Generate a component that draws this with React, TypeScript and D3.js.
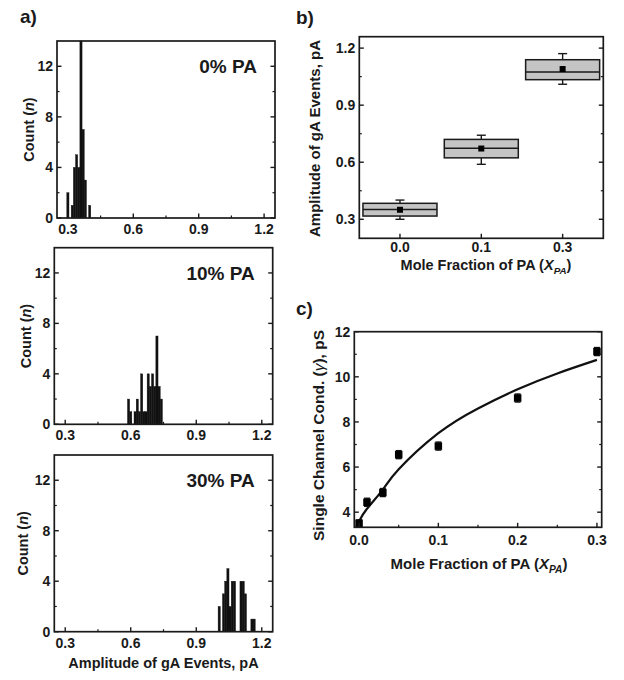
import React from "react";
import * as d3 from "d3";

// ---------- Panel a: histograms ----------
const histLabels = ["0% PA", "10% PA", "30% PA"];
const histBinWidth = 0.01;
const hist0Starts = [0.295, 0.315, 0.325, 0.335, 0.345, 0.355, 0.365, 0.375, 0.395];
const hist0Counts = [2, 1, 4, 5, 4, 14, 7, 3, 1];
const hist10Starts = [0.585, 0.595, 0.615, 0.625, 0.635, 0.645, 0.655, 0.665, 0.675, 0.685, 0.695, 0.705, 0.715, 0.725, 0.735];
const hist10Counts = [2, 1, 1, 2, 1, 4, 1, 1, 4, 3, 4, 3, 7, 3, 2];
const hist30Starts = [1.0, 1.02, 1.03, 1.04, 1.05, 1.06, 1.07, 1.1, 1.11, 1.12, 1.15, 1.16];
const hist30Counts = [2, 3, 4, 5, 2, 4, 4, 4, 4, 3, 1, 1];
const histXTicks = [0.3, 0.6, 0.9, 1.2];
const histXMinor = [0.45, 0.75, 1.05];
const histYTicks = [0, 4, 8, 12];
const histYMinor = [2, 6, 10];

// ---------- Panel b: box plot ----------
const boxCats = ["0.0", "0.1", "0.3"];
const boxQ1 = [0.317, 0.623, 1.034];
const boxQ3 = [0.384, 0.72, 1.139];
const boxMedian = [0.352, 0.673, 1.074];
const boxMean = [0.35, 0.672, 1.09];
const boxMin = [0.3, 0.589, 1.01];
const boxMax = [0.401, 0.742, 1.171];
const boxYTicks = [0.3, 0.6, 0.9, 1.2];
const boxYMinor = [0.45, 0.75, 1.05];

// ---------- Panel c: conductance ----------
const condX = [0, 0.01, 0.03, 0.05, 0.1, 0.2, 0.3];
const condY = [3.51, 4.44, 4.87, 6.55, 6.93, 9.06, 11.12];
const condErr = [0.15, 0.18, 0.18, 0.18, 0.18, 0.18, 0.18];
const fitX = [0, 0.01, 0.03, 0.05, 0.1, 0.15, 0.2, 0.25, 0.3];
const fitY = [3.6, 4.15, 5.0, 5.9, 7.5, 8.6, 9.45, 10.15, 10.75];
const condXTicks = [0, 0.1, 0.2, 0.3];
const condXMinor = [0.05, 0.15, 0.25];
const condYTicks = [4, 6, 8, 10, 12];
const condYMinor = [5, 7, 9, 11];

const INK = "#1a1a1a";
const FONT = "Arial, 'Liberation Sans', Helvetica, sans-serif";

type Box = { left: number; right: number; top: number; bottom: number };

function Axes(props: {
  box: Box;
  x: (v: number) => number;
  y: (v: number) => number;
  xTicks: number[];
  xMinor: number[];
  yTicks: number[];
  yMinor: number[];
  fmtX: (v: number, i: number) => string;
  fmtY: (v: number) => string;
  xLabOff: number;
}) {
  const { box, x, y, xTicks, xMinor, yTicks, yMinor, fmtX, fmtY, xLabOff } = props;
  const M = 4.5;
  const m = 2.5;
  return (
    <g>
      <rect x={box.left} y={box.top} width={box.right - box.left} height={box.bottom - box.top}
        fill="none" stroke={INK} strokeWidth={1.7} />
      {yTicks.map((t) => (
        <g key={"yt" + t}>
          <line x1={box.left} x2={box.left + M} y1={y(t)} y2={y(t)} stroke={INK} strokeWidth={1.4} />
          <line x1={box.right} x2={box.right - M} y1={y(t)} y2={y(t)} stroke={INK} strokeWidth={1.4} />
          <text x={box.left - 4} y={y(t)} dy="0.36em" textAnchor="end" fontSize={14} fontWeight="bold"
            fill={INK} fontFamily={FONT}>{fmtY(t)}</text>
        </g>
      ))}
      {yMinor.map((t) => (
        <g key={"ym" + t}>
          <line x1={box.left} x2={box.left + m} y1={y(t)} y2={y(t)} stroke={INK} strokeWidth={1.2} />
          <line x1={box.right} x2={box.right - m} y1={y(t)} y2={y(t)} stroke={INK} strokeWidth={1.2} />
        </g>
      ))}
      {xTicks.map((t, i) => (
        <g key={"xt" + i}>
          <line x1={x(t)} x2={x(t)} y1={box.bottom} y2={box.bottom - M} stroke={INK} strokeWidth={1.4} />
          <text x={x(t)} y={box.bottom + xLabOff} textAnchor="middle" fontSize={14} fontWeight="bold"
            fill={INK} fontFamily={FONT}>{fmtX(t, i)}</text>
        </g>
      ))}
      {xMinor.map((t) => (
        <line key={"xm" + t} x1={x(t)} x2={x(t)} y1={box.bottom} y2={box.bottom - m} stroke={INK} strokeWidth={1.2} />
      ))}
    </g>
  );
}

function Histogram(props: { box: Box; starts: number[]; counts: number[]; label: string; titleX: number; showXTitle?: boolean }) {
  const { box, starts, counts, label, titleX, showXTitle } = props;
  const x = d3.scaleLinear().domain([0.25, 1.25]).range([box.left, box.right]);
  const y = d3.scaleLinear().domain([0, 14]).range([box.bottom, box.top]);
  const cy = (box.top + box.bottom) / 2;
  return (
    <g>
      {starts.map((s, i) => (
        <rect key={i} x={x(s)} width={x(s + histBinWidth) - x(s)} y={y(counts[i])}
          height={y(0) - y(counts[i])} fill="#111" stroke="#111" strokeWidth={0.4} />
      ))}
      <Axes box={box} x={x} y={y} xTicks={histXTicks} xMinor={histXMinor} yTicks={histYTicks}
        yMinor={histYMinor} fmtX={(v) => d3.format(".1f")(v)} fmtY={(v) => String(v)} xLabOff={16} />
      <text x={box.right - 18} y={y(12) + 7} textAnchor="end" fontSize={19} fontWeight="bold" fill={INK}
        fontFamily={FONT}>{label}</text>
      <text transform={`translate(${titleX},${cy}) rotate(-90)`} textAnchor="middle" dy="0.35em"
        fontSize={14.5} fontWeight="bold" fill={INK} fontFamily={FONT}>
        Count (<tspan fontStyle="italic">n</tspan>)
      </text>
      {showXTitle && (
        <text x={(box.left + box.right) / 2} y={box.bottom + 36} textAnchor="middle" fontSize={14.5}
          fontWeight="bold" fill={INK} fontFamily={FONT}>Amplitude of gA Events, pA</text>
      )}
    </g>
  );
}

function XpaTitle(props: { x: number; y: number; size: number }) {
  return (
    <text x={props.x} y={props.y} textAnchor="middle" fontSize={props.size} fontWeight="bold" fill={INK}
      fontFamily={FONT}>
      Mole Fraction of PA (<tspan fontStyle="italic">X</tspan>
      <tspan fontStyle="italic" fontSize={props.size * 0.68} dy={4}>PA</tspan>
      <tspan dy={-4}>)</tspan>
    </text>
  );
}

function BoxPanel() {
  const box: Box = { left: 359.3, right: 603.3, top: 36.7, bottom: 238.3 };
  const x = d3.scaleLinear().domain([-0.5, 2.5]).range([box.left, box.right]);
  const y = d3.scaleLinear().domain([0.2, 1.26]).range([box.bottom, box.top]);
  const half = (x(1) - x(0)) * 0.455;
  const cap = 4.5;
  const idx = boxCats.map((_, i) => i);
  return (
    <g>
      {idx.map((i) => (
        <g key={i}>
          <line x1={x(i)} x2={x(i)} y1={y(boxMax[i])} y2={y(boxQ3[i])} stroke={INK} strokeWidth={1.4} />
          <line x1={x(i)} x2={x(i)} y1={y(boxMin[i])} y2={y(boxQ1[i])} stroke={INK} strokeWidth={1.4} />
          <line x1={x(i) - cap} x2={x(i) + cap} y1={y(boxMax[i])} y2={y(boxMax[i])} stroke={INK} strokeWidth={1.4} />
          <line x1={x(i) - cap} x2={x(i) + cap} y1={y(boxMin[i])} y2={y(boxMin[i])} stroke={INK} strokeWidth={1.4} />
          <rect x={x(i) - half} width={2 * half} y={y(boxQ3[i])} height={y(boxQ1[i]) - y(boxQ3[i])}
            fill="#c4c4c4" stroke={INK} strokeWidth={1.5} />
          <line x1={x(i) - half} x2={x(i) + half} y1={y(boxMedian[i])} y2={y(boxMedian[i])} stroke={INK} strokeWidth={1.5} />
          <rect x={x(i) - 3} y={y(boxMean[i]) - 3} width={6} height={6} fill="#000" />
        </g>
      ))}
      <Axes box={box} x={x} y={y} xTicks={idx} xMinor={[]} yTicks={boxYTicks} yMinor={boxYMinor}
        fmtX={(_, i) => boxCats[i]} fmtY={(v) => d3.format(".1f")(v)} xLabOff={14} />
      <text transform={`translate(315,${(box.top + box.bottom) / 2 + 1}) rotate(-90)`} textAnchor="middle" dy="0.35em"
        fontSize={15} fontWeight="bold" fill={INK} fontFamily={FONT}>Amplitude of gA Events, pA</text>
      <XpaTitle x={486} y={269.5} size={14.5} />
    </g>
  );
}

function CondPanel() {
  const box: Box = { left: 354.3, right: 601.7, top: 331.7, bottom: 527.3 };
  const x = d3.scaleLinear().domain([-0.006, 0.306]).range([box.left, box.right]);
  const y = d3.scaleLinear().domain([3.33, 12]).range([box.bottom, box.top]);
  const pts = fitX.map((v, i) => [v, fitY[i]] as [number, number]);
  const line = d3.line<[number, number]>().x((d) => x(d[0])).y((d) => y(d[1])).curve(d3.curveNatural);
  const s = 7.5;
  return (
    <g>
      <path d={line(pts) || ""} fill="none" stroke="#111" strokeWidth={2.2} />
      {condX.map((v, i) => (
        <g key={i}>
          <line x1={x(v)} x2={x(v)} y1={y(condY[i] - condErr[i])} y2={y(condY[i] + condErr[i])} stroke="#111" strokeWidth={1.3} />
          <line x1={x(v) - 3} x2={x(v) + 3} y1={y(condY[i] + condErr[i])} y2={y(condY[i] + condErr[i])} stroke="#111" strokeWidth={1.3} />
          <line x1={x(v) - 3} x2={x(v) + 3} y1={y(condY[i] - condErr[i])} y2={y(condY[i] - condErr[i])} stroke="#111" strokeWidth={1.3} />
          <rect x={x(v) - s / 2} y={y(condY[i]) - s / 2} width={s} height={s} fill="#000" />
        </g>
      ))}
      <Axes box={box} x={x} y={y} xTicks={condXTicks} xMinor={condXMinor} yTicks={condYTicks} yMinor={condYMinor}
        fmtX={(v) => d3.format(".1f")(v)} fmtY={(v) => String(v)} xLabOff={17.5} />
      <text transform={`translate(319,${(box.top + box.bottom) / 2 + 6}) rotate(-90)`} textAnchor="middle" dy="0.35em"
        fontSize={15.5} fontWeight="bold" fill={INK} fontFamily={FONT}>
        Single Channel Cond. (<tspan fontStyle="italic" fontWeight="normal">γ</tspan>), pS
      </text>
      <XpaTitle x={479} y={569} size={15} />
    </g>
  );
}

export default function App() {
  return (
    <svg width={624} height={680} viewBox="0 0 624 680"
      style={{ position: "absolute", left: 0, top: 0, background: "#fff" }}>
      <rect width={624} height={680} fill="#fff" />
      <text x={20} y={23} fontSize={19} fontWeight="bold" fill={INK} fontFamily={FONT}>a)</text>
      <text x={296} y={24} fontSize={19} fontWeight="bold" fill={INK} fontFamily={FONT}>b)</text>
      <text x={296} y={315} fontSize={19} fontWeight="bold" fill={INK} fontFamily={FONT}>c)</text>
      <Histogram box={{ left: 57, right: 275, top: 41, bottom: 218 }} starts={hist0Starts} counts={hist0Counts}
        label={histLabels[0]} titleX={29} />
      <Histogram box={{ left: 54.3, right: 272.7, top: 247.7, bottom: 424.3 }} starts={hist10Starts}
        counts={hist10Counts} label={histLabels[1]} titleX={26} />
      <Histogram box={{ left: 54.3, right: 272.7, top: 455, bottom: 631.7 }} starts={hist30Starts}
        counts={hist30Counts} label={histLabels[2]} titleX={23} showXTitle />
      <BoxPanel />
      <CondPanel />
    </svg>
  );
}
